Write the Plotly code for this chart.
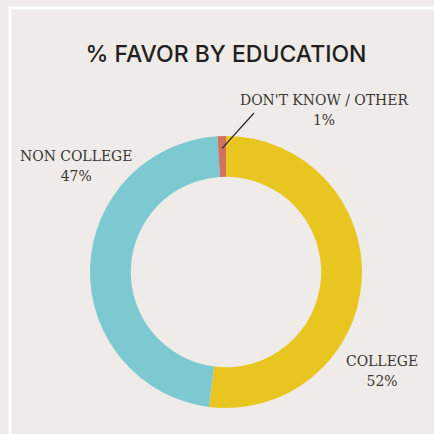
import math
import plotly.graph_objects as go

# Survey breakdown of those in favor, by education
labels = ["COLLEGE", "NON COLLEGE", "DON'T KNOW / OTHER"]
values = [52, 47, 1]
colors = ["#E9C61F", "#7CC9D2", "#CE735D"]

W, H = 434, 434
cx, cy, r_out = 226, 272, 136
hole = 0.70

fig = go.Figure()
fig.add_trace(go.Pie(
    labels=labels,
    values=values,
    marker=dict(colors=colors, line=dict(width=0)),
    hole=hole,
    sort=False,
    direction="clockwise",
    rotation=0,
    textinfo="none",
    hoverinfo="label+percent",
    showlegend=False,
    domain=dict(x=[(cx - r_out) / W, (cx + r_out) / W],
                y=[1 - (cy + r_out) / H, 1 - (cy - r_out) / H]),
))

label_font = dict(family="DejaVu Serif Condensed", size=15.5, color="#3a3636")

def px(x):
    return x / W

def py(y):
    return 1 - y / H

# label positions (pixels)
label_pos = {"COLLEGE": (382, 371), "NON COLLEGE": (76, 166), "DON'T KNOW / OTHER": (324, 110)}
for lab, val in zip(labels, values):
    x, y = label_pos[lab]
    fig.add_annotation(x=px(x), y=py(y), xref="paper", yref="paper",
                       xanchor="center", yanchor="middle",
                       text=f"{lab}<br>{val}%", showarrow=False,
                       font=label_font, align="center")

# leader line to the smallest slice, from its mid angle
total = sum(values)
start = sum(values[:-1]) / total
mid = (start + values[-1] / total / 2) * 2 * math.pi
r_mid = r_out * 0.91
ex = cx + r_mid * math.sin(mid)
ey = cy - r_mid * math.cos(mid)
fig.add_shape(type="line", xref="paper", yref="paper",
              x0=px(ex), y0=py(ey), x1=px(254), y1=py(113),
              line=dict(color="#222222", width=1.2))

# white frame
fig.add_shape(type="rect", xref="paper", yref="paper",
              x0=px(10), y0=py(460), x1=px(460), y1=py(8),
              line=dict(color="#ffffff", width=3), layer="below")

fig.update_layout(
    width=W, height=H,
    margin=dict(l=0, r=0, t=0, b=0),
    paper_bgcolor="#EFEBE8",
    plot_bgcolor="#EFEBE8",
    title=dict(text="% FAVOR BY EDUCATION", x=226 / W, y=py(54), xanchor="center", yanchor="middle",
               font=dict(family="Inter", size=23, color="#231f20", weight=500)),
)

fig.write_html("out.html")
